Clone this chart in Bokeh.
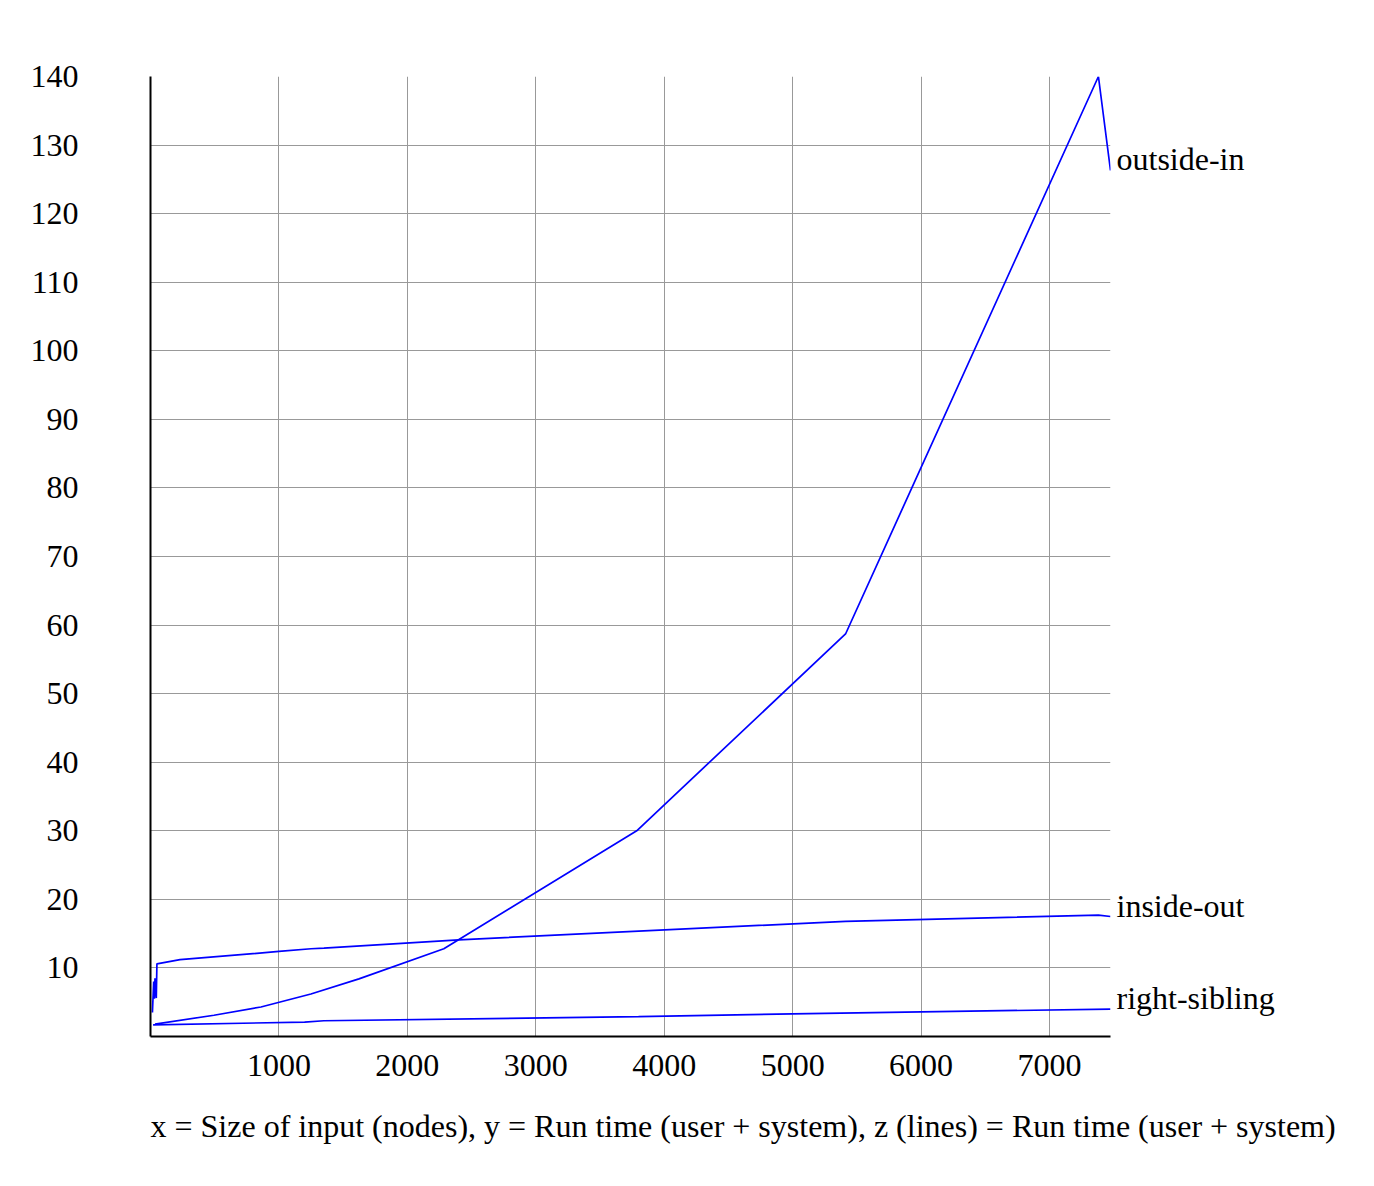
from bokeh.plotting import figure
from bokeh.models import FixedTicker, Range1d, LinearAxis, Title
from bokeh.embed import file_html
from bokeh.resources import INLINE

# Data
outside_in_x = [35, 494, 860, 1249, 1623, 2284, 3786, 5412, 7381, 7475]
outside_in_y = [1.8, 3.1, 4.3, 6.2, 8.4, 12.8, 30.0, 58.7, 140.0, 126.3]

inside_out_x = [15, 25, 30, 35, 45, 50, 230, 1000, 1250, 1350, 2400, 5412, 7381, 7475]
inside_out_y = [3.5, 8.0, 5.5, 8.5, 5.6, 10.6, 11.2, 12.4, 12.8, 12.9, 14.1, 16.8, 17.7, 17.5]

right_sibling_x = [20, 1200, 1350, 3800, 5000, 7475]
right_sibling_y = [1.7, 2.1, 2.3, 2.9, 3.3, 4.0]

x_ticks = [1000, 2000, 3000, 4000, 5000, 6000, 7000]
y_ticks = [10, 20, 30, 40, 50, 60, 70, 80, 90, 100, 110, 120, 130, 140]

series_names = ["outside-in", "inside-out", "right-sibling"]
caption = "x = Size of input (nodes), y = Run time (user + system), z (lines) = Run time (user + system)"

FONT = "Liberation Serif"
FS = "32px"

p = figure(frame_width=960, frame_height=960, output_backend="svg", toolbar_location=None,
           x_range=Range1d(0, 7475), y_range=Range1d(0, 140),
           min_border_left=150, min_border_top=76, min_border_right=240, min_border_bottom=20)
p.outline_line_color = None
p.background_fill_color = "white"
p.border_fill_color = "white"

p.xaxis.ticker = FixedTicker(ticks=x_ticks)
p.yaxis.ticker = FixedTicker(ticks=y_ticks)
for ax in (p.xaxis, p.yaxis):
    ax.axis_line_color = "black"
    ax.axis_line_width = 2
    ax.major_tick_line_color = None
    ax.minor_tick_line_color = None
    ax.major_label_text_font = FONT
    ax.major_label_text_font_size = FS
    ax.major_label_text_color = "black"
p.yaxis.major_label_standoff = 66
p.xaxis.major_label_standoff = 12

p.xgrid.grid_line_color = "#999999"
p.ygrid.grid_line_color = "#999999"
p.xgrid.grid_line_width = 1
p.ygrid.grid_line_width = 1

series = [(outside_in_x, outside_in_y), (inside_out_x, inside_out_y), (right_sibling_x, right_sibling_y)]
end_vals = []
for xs, ys in series:
    p.line(xs, ys, line_color="#0000ff", line_width=1.7)
    end_vals.append(ys[-1])

# series names as labels on a right-hand axis, at each line's end value
label_shift = 1.6  # labels sit with their baseline at the line end
tick_pos = [v + label_shift for v in end_vals]
raxis = LinearAxis(ticker=FixedTicker(ticks=tick_pos),
                   major_label_overrides={t: n for t, n in zip(tick_pos, series_names)})
raxis.axis_line_color = None
raxis.major_tick_line_color = None
raxis.minor_tick_line_color = None
raxis.major_label_standoff = 0
raxis.major_label_text_font = FONT
raxis.major_label_text_font_size = FS
raxis.major_label_text_color = "black"
p.add_layout(raxis, "right")

p.add_layout(Title(text=caption, align="left", text_font=FONT, text_font_size=FS,
                   text_font_style="normal", text_color="black", standoff=54, offset=0), "below")

open("out.html", "w").write(file_html(p, INLINE))
